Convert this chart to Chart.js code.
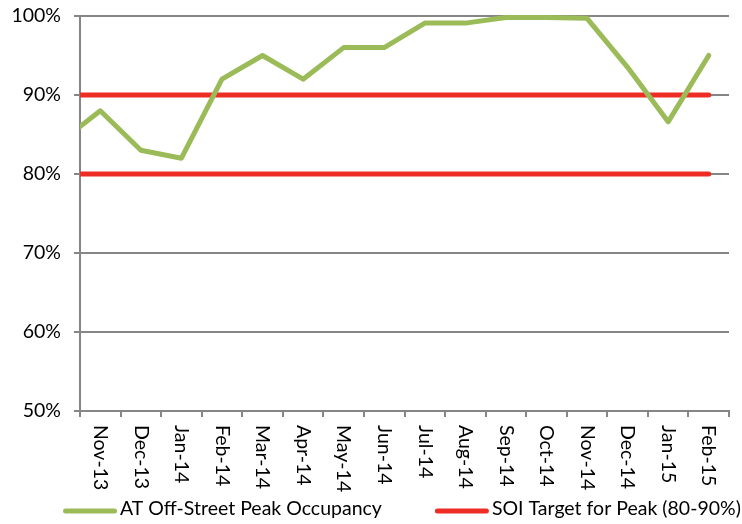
<!DOCTYPE html>
<html lang="en">
<head>
<meta charset="UTF-8">
<title>AT Off-Street Peak Occupancy</title>
<script src="https://cdn.jsdelivr.net/npm/chart.js"></script>
<style>
    body { margin: 0; background: #fff; }
    .chart-container { width: 742px; height: 524px; }
</style>
</head>
<body>
<div class="chart-container"><canvas id="occupancyChart"></canvas></div>
<script>
    // Oct-13 lies just outside the visible range, only its segment into Nov-13 shows
    const months = ['Oct-13', 'Nov-13', 'Dec-13', 'Jan-14', 'Feb-14', 'Mar-14', 'Apr-14', 'May-14', 'Jun-14',
        'Jul-14', 'Aug-14', 'Sep-14', 'Oct-14', 'Nov-14', 'Dec-14', 'Jan-15', 'Feb-15'];
    const occupancy = [84, 88, 83, 82, 92, 95, 92, 96, 96, 99.1, 99.1, 99.8, 99.8, 99.7, 93.5, 86.6, 95];
    const targetHigh = [90, 90, 90, 90, 90, 90, 90, 90, 90, 90, 90, 90, 90, 90, 90, 90, 90];
    const targetLow = [80, 80, 80, 80, 80, 80, 80, 80, 80, 80, 80, 80, 80, 80, 80, 80, 80];
    const yTicks = [50, 60, 70, 80, 90, 100];

    const axisGrey = '#868686';
    const green = '#9BBB59';
    const red = '#EE2D24';
    const fontPx = 19.5;

    Chart.defaults.font.family = 'Lato';
    Chart.defaults.font.size = fontPx;
    Chart.defaults.color = '#000';

    // x labels read top-to-bottom, which Chart.js can't rotate to, so draw them here
    const downLabels = {
        id: 'downLabels',
        afterDraw(chart) {
            const xs = chart.scales.x;
            const ctx = chart.ctx;
            ctx.save();
            ctx.font = fontPx + 'px Lato';
            ctx.fillStyle = '#000';
            ctx.textAlign = 'left';
            ctx.textBaseline = 'middle';
            xs.ticks.forEach((t, i) => {
                ctx.save();
                ctx.translate(xs.getPixelForTick(i), xs.top + 14);
                ctx.rotate(Math.PI / 2);
                ctx.fillText(xs.getLabelForValue(t.value), 0, 0);
                ctx.restore();
            });
            ctx.restore();
        }
    };

    // legend row: the two target lines share one entry, Excel style spacing
    const bottomLegend = {
        id: 'bottomLegend',
        afterDraw(chart) {
            const ctx = chart.ctx;
            const y = 509;
            let x = 63;
            ctx.save();
            ctx.font = fontPx + 'px Lato';
            ctx.textBaseline = 'middle';
            chart.data.datasets.slice(0, 2).forEach(ds => {
                ctx.strokeStyle = ds.borderColor;
                ctx.lineWidth = 5;
                ctx.lineCap = 'round';
                ctx.beginPath();
                ctx.moveTo(x + 2.5, y + 2);
                ctx.lineTo(x + 51.5, y + 2);
                ctx.stroke();
                ctx.fillStyle = '#000';
                ctx.fillText(ds.label, x + 57, y);
                x += 57 + ctx.measureText(ds.label).width + 53;
            });
            ctx.restore();
        }
    };

    const lineStyle = {
        borderWidth: 5,
        pointRadius: 0,
        tension: 0,
        borderCapStyle: 'round',
        borderJoinStyle: 'round',
        clip: { left: 0, top: 5, right: 5, bottom: 5 }
    };

    new Chart(document.getElementById('occupancyChart'), {
        type: 'line',
        data: {
            labels: months,
            datasets: [
                { label: 'AT Off-Street Peak Occupancy', data: occupancy, borderColor: green, backgroundColor: green, ...lineStyle },
                { label: 'SOI Target for Peak (80-90%)', data: targetHigh, borderColor: red, backgroundColor: red, ...lineStyle },
                { label: 'SOI Target for Peak (80-90%)', data: targetLow, borderColor: red, backgroundColor: red, ...lineStyle }
            ]
        },
        options: {
            responsive: true,
            maintainAspectRatio: false,
            animation: false,
            layout: { padding: { left: 0, right: 13, top: 16, bottom: 74 } },
            plugins: {
                tooltip: { enabled: false },
                legend: { display: false }
            },
            scales: {
                x: {
                    type: 'category',
                    min: 'Nov-13',
                    offset: true,
                    grid: { display: true, drawOnChartArea: false, drawTicks: true, tickLength: 6, color: axisGrey, lineWidth: 2, offset: true },
                    border: { display: true, color: axisGrey, width: 2 },
                    ticks: { display: false },
                    afterFit: s => { s.height = 39; s.paddingLeft = 0; s.paddingRight = 0; }
                },
                y: {
                    min: yTicks[0],
                    max: yTicks[yTicks.length - 1],
                    afterBuildTicks: s => { s.ticks = yTicks.map(v => ({ value: v })); },
                    grid: { color: axisGrey, lineWidth: 2, drawTicks: true, tickLength: 6 },
                    border: { display: true, color: axisGrey, width: 2 },
                    ticks: { padding: 13, color: '#000', callback: v => v + '%' },
                    afterFit: s => { s.width = 80; s.paddingTop = 0; s.paddingBottom = 0; }
                }
            }
        },
        plugins: [downLabels, bottomLegend]
    });
</script>
</body>
</html>
